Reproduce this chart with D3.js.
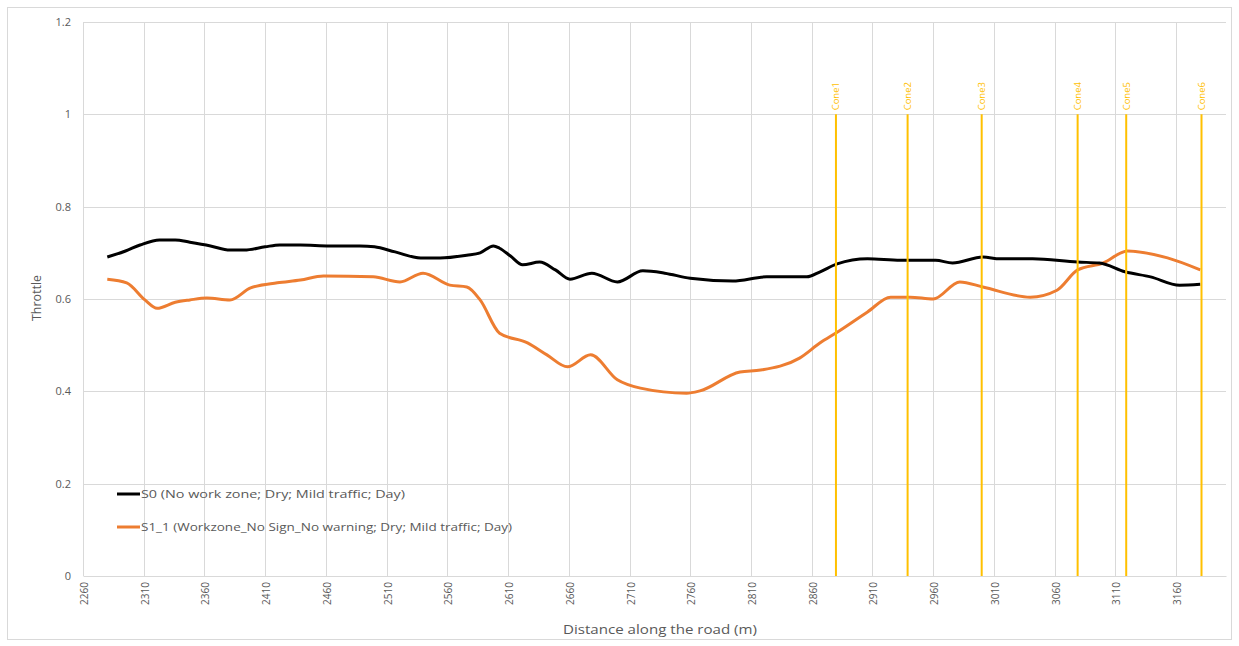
<!DOCTYPE html>
<html>
<head>
<meta charset="utf-8">
<script src="https://cdn.jsdelivr.net/npm/d3@7"></script>
<style>
  html, body { margin: 0; padding: 0; background: #fff; }
  svg text { font-family: "Open Sans", "Noto Sans", "Liberation Sans", sans-serif; }
</style>
</head>
<body>
<svg id="chart" width="1239" height="646"></svg>
<script>
// ---- data ----
const s0Distance = [2280,2295,2307,2323,2336,2348,2365,2381,2393,2410,2422,2439,2463,2488,2500,2517,2538,2554,2576,2587,2598,2603,2612,2622,2636,2649,2661,2679,2700,2721,2739,2760,2795,2823,2856,2867,2881,2906,2933,2962,2976,3001,3015,3042,3079,3097,3118,3139,3163,3180];
const s0Values   = [0.691,0.704,0.717,0.728,0.728,0.723,0.715,0.706,0.706,0.713,0.717,0.717,0.715,0.715,0.713,0.702,0.689,0.689,0.695,0.700,0.715,0.710,0.693,0.674,0.680,0.663,0.643,0.656,0.637,0.661,0.656,0.645,0.639,0.648,0.648,0.659,0.676,0.687,0.684,0.684,0.678,0.691,0.687,0.687,0.680,0.678,0.659,0.648,0.630,0.632];

const s1Distance = [2280,2296,2311,2321,2336,2348,2362,2381,2398,2420,2439,2458,2499,2521,2540,2562,2576,2587,2603,2626,2642,2659,2678,2700,2719,2757,2768,2801,2818,2850,2867,2881,2906,2925,2941,2960,2982,3001,3040,3062,3079,3100,3120,3153,3180];
const s1Values   = [0.643,0.635,0.598,0.580,0.593,0.598,0.602,0.598,0.624,0.635,0.641,0.650,0.648,0.637,0.656,0.630,0.626,0.598,0.526,0.505,0.479,0.453,0.479,0.425,0.407,0.396,0.401,0.442,0.446,0.472,0.505,0.528,0.572,0.604,0.604,0.600,0.637,0.626,0.604,0.619,0.663,0.678,0.704,0.689,0.663];

const seriesNames = ["S0 (No work zone; Dry; Mild traffic; Day)", "S1_1 (Workzone_No Sign_No warning; Dry; Mild traffic; Day)"];
const seriesColors = ["#000000", "#ED7D31"];

const xTicks = [2260,2310,2360,2410,2460,2510,2560,2610,2660,2710,2760,2810,2860,2910,2960,3010,3060,3110,3160];
const yTicks = [0,0.2,0.4,0.6,0.8,1,1.2];

const coneNames = ["Cone1","Cone2","Cone3","Cone4","Cone5","Cone6"];
const conePositions = [2880,2939,3000,3079,3119,3181];
const coneHeight = 1;

// ---- layout ----
const svg = d3.select("#chart");
const pLeft = 83, pRight = 1226, pTop = 22, pBottom = 576;

svg.append("rect").attr("x", 7.5).attr("y", 7.5).attr("width", 1224).attr("height", 632)
  .attr("fill", "#fff").attr("stroke", "#d9d9d9");

const pxPerM = (1176 - 83) / 900;
const x = d3.scaleLinear().domain([2260, 2260 + (pRight - pLeft) / pxPerM]).range([pLeft, pRight]);
const y = d3.scaleLinear().domain([0, 1.2]).range([pBottom, pTop]);

// gridlines
svg.append("g").selectAll("line").data(yTicks.filter(d => d > 0)).join("line")
  .attr("x1", pLeft).attr("x2", pRight)
  .attr("y1", d => Math.round(y(d)) + 0.5).attr("y2", d => Math.round(y(d)) + 0.5)
  .attr("stroke", "#d9d9d9").attr("stroke-width", 1);
svg.append("g").selectAll("line").data(xTicks).join("line")
  .attr("x1", d => Math.round(x(d)) + 0.5).attr("x2", d => Math.round(x(d)) + 0.5)
  .attr("y1", pTop).attr("y2", pBottom)
  .attr("stroke", "#d9d9d9").attr("stroke-width", 1);

// x axis
const xAxis = d3.axisBottom(x).tickValues(xTicks).tickSize(0).tickFormat(d3.format("d"));
const gx = svg.append("g").attr("transform", `translate(0,${pBottom})`).call(xAxis);
gx.select(".domain").attr("stroke", "#d9d9d9");
gx.selectAll("text")
  .attr("fill", "#595959").attr("font-size", 10)
  .attr("transform", "rotate(-90)")
  .attr("text-anchor", "end")
  .attr("x", -6).attr("y", 1).attr("dy", "0.35em");

// y axis
const yAxis = d3.axisLeft(y).tickValues(yTicks).tickSize(0).tickFormat(d => d3.format("")(d));
const gy = svg.append("g").attr("transform", `translate(${pLeft},0)`).call(yAxis);
gy.select(".domain").remove();
gy.selectAll("text").attr("fill", "#595959").attr("font-size", 11).attr("x", -12);

// axis titles
svg.append("text").attr("x", 660).attr("y", 634).attr("text-anchor", "middle")
  .attr("font-size", 12.5).attr("fill", "#595959")
  .attr("textLength", 194).attr("lengthAdjust", "spacingAndGlyphs")
  .text("Distance along the road (m)");
svg.append("text").attr("transform", "translate(41,298) rotate(-90)").attr("text-anchor", "middle")
  .attr("font-size", 12).attr("fill", "#595959")
  .attr("textLength", 46).attr("lengthAdjust", "spacingAndGlyphs")
  .text("Throttle");

// series lines
const line = d3.line().x(d => x(d[0])).y(d => y(d[1])).curve(d3.curveMonotoneX);
const s1 = s1Distance.map((d, i) => [d, s1Values[i]]);
const s0 = s0Distance.map((d, i) => [d, s0Values[i]]);
svg.append("path").datum(s1).attr("d", line).attr("fill", "none")
  .attr("stroke", seriesColors[1]).attr("stroke-width", 3).attr("stroke-linejoin", "round");
svg.append("path").datum(s0).attr("d", line).attr("fill", "none")
  .attr("stroke", seriesColors[0]).attr("stroke-width", 3).attr("stroke-linejoin", "round");

// cones
const cones = svg.append("g").selectAll("g").data(conePositions).join("g");
cones.append("line")
  .attr("x1", d => x(d)).attr("x2", d => x(d))
  .attr("y1", y(coneHeight)).attr("y2", pBottom)
  .attr("stroke", "#FFC000").attr("stroke-width", 2);
cones.append("text")
  .attr("transform", d => `translate(${x(d)},${y(coneHeight) - 4}) rotate(-90)`)
  .attr("text-anchor", "start").attr("dy", "0.35em")
  .attr("font-size", 9.5).attr("fill", "#FFC000")
  .text((d, i) => coneNames[i]);

// legend
const legendY = [494, 527];
const legendLen = [264, 371];
const lg = svg.append("g").selectAll("g").data(seriesNames).join("g");
lg.append("line").attr("x1", 117).attr("x2", 140)
  .attr("y1", (d, i) => legendY[i]).attr("y2", (d, i) => legendY[i])
  .attr("stroke", (d, i) => seriesColors[i]).attr("stroke-width", 3);
lg.append("text").attr("x", 141).attr("y", (d, i) => legendY[i]).attr("dy", "0.35em")
  .attr("font-size", 11.5).attr("fill", "#595959")
  .attr("textLength", (d, i) => legendLen[i]).attr("lengthAdjust", "spacingAndGlyphs")
  .text(d => d);
</script>
</body>
</html>
